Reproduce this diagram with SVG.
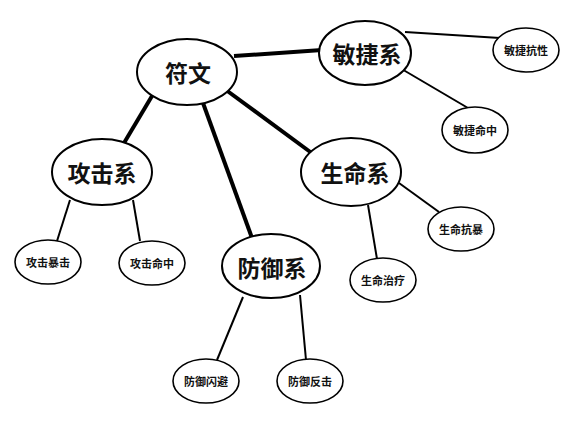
<svg xmlns="http://www.w3.org/2000/svg" width="580" height="432" viewBox="0 0 580 432">
<style>
.big{fill:#fff;stroke:#000;stroke-width:2}
.small{fill:#fff;stroke:#000;stroke-width:1.6}
.bt{font-family:"Noto Sans CJK SC","Noto Sans",sans-serif;font-weight:bold;font-size:23px;text-anchor:middle;dominant-baseline:central;fill:#111}
.st{font-family:"Noto Sans CJK SC","Noto Sans",sans-serif;font-weight:bold;font-size:11px;text-anchor:middle;dominant-baseline:central;fill:#111}
.thick{stroke:#000;stroke-width:4;fill:none}
.thin{stroke:#000;stroke-width:2;fill:none}
</style>
<rect width="580" height="432" fill="#fff"/>
<g id="connectors">
<line class="thick" x1="234" y1="56" x2="322" y2="50"/>
<line class="thick" x1="152" y1="96" x2="124" y2="143"/>
<line class="thick" x1="203" y1="103" x2="252" y2="238"/>
<line class="thick" x1="226" y1="90" x2="313" y2="154"/>
<line class="thin" x1="405" y1="32" x2="500" y2="38"/>
<line class="thin" x1="400" y1="68" x2="468" y2="108"/>
<line class="thin" x1="70" y1="200" x2="57" y2="241"/>
<line class="thin" x1="133" y1="200" x2="140" y2="241"/>
<line class="thin" x1="243" y1="297" x2="217" y2="360"/>
<line class="thin" x1="300" y1="295" x2="306" y2="360"/>
<line class="thin" x1="399" y1="183" x2="439" y2="212"/>
<line class="thin" x1="368" y1="205" x2="377" y2="259"/>
</g>
<g id="fuwen"><ellipse class="big" cx="187" cy="72" rx="50" ry="33"/><text class="bt" x="188" y="72">符文</text></g>
<g id="minjie"><ellipse class="big" cx="365" cy="53" rx="46" ry="32"/><text class="bt" x="367" y="53">敏捷系</text></g>
<g id="gongji"><ellipse class="big" cx="102" cy="172" rx="50" ry="33"/><text class="bt" x="102" y="172">攻击系</text></g>
<g id="shengming"><ellipse class="big" cx="351" cy="172" rx="50" ry="34"/><text class="bt" x="355" y="172">生命系</text></g>
<g id="fangyu"><ellipse class="big" cx="271" cy="266" rx="49" ry="32"/><text class="bt" x="272" y="267">防御系</text></g>
<g id="minjiekangxing"><ellipse class="small" cx="526" cy="50" rx="33" ry="22"/><text class="st" x="526" y="50">敏捷抗性</text></g>
<g id="minjiemingzhong"><ellipse class="small" cx="475" cy="130" rx="33" ry="23"/><text class="st" x="475" y="130">敏捷命中</text></g>
<g id="gongjibaoji"><ellipse class="small" cx="48" cy="262" rx="33" ry="22"/><text class="st" x="48" y="262">攻击暴击</text></g>
<g id="gongjimingzhong"><ellipse class="small" cx="152" cy="263" rx="33" ry="22"/><text class="st" x="152" y="263">攻击命中</text></g>
<g id="shengmingkangbao"><ellipse class="small" cx="461" cy="229" rx="33" ry="22"/><text class="st" x="461" y="229">生命抗暴</text></g>
<g id="shengmingzhiliao"><ellipse class="small" cx="383" cy="280" rx="33" ry="22"/><text class="st" x="383" y="280">生命治疗</text></g>
<g id="fangyushanbi"><ellipse class="small" cx="206" cy="381" rx="33" ry="22"/><text class="st" x="206" y="381">防御闪避</text></g>
<g id="fangyufanji"><ellipse class="small" cx="310" cy="381" rx="33" ry="22"/><text class="st" x="310" y="381">防御反击</text></g>
</svg>
